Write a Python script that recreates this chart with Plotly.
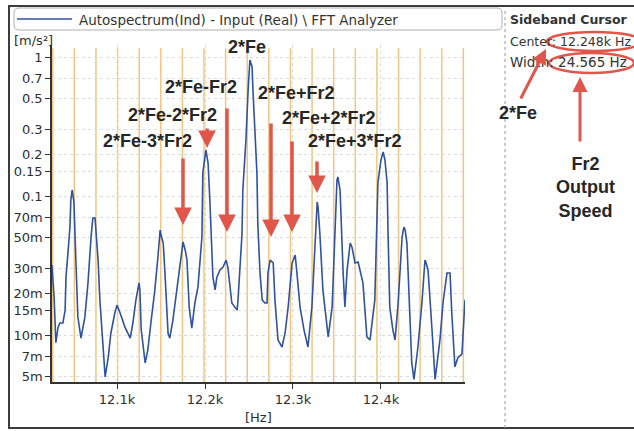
import numpy as np
import plotly.graph_objects as go

# Autospectrum around twice the mesh frequency (Hz, m/s^2)
freq_hz = [
    12026, 12028.5, 12030.5, 12033, 12035, 12038.5, 12041, 12042, 12044.5, 12046.5,
    12047.5, 12049, 12051, 12052.5, 12053.5, 12055.5, 12059, 12063.5, 12067, 12070.5,
    12072.5, 12075, 12076, 12078.5, 12080.5, 12084, 12086.5, 12090, 12093, 12097.5,
    12100, 12103.5, 12109, 12115, 12118, 12121.5, 12125, 12126, 12127.5, 12132,
    12135, 12138.5, 12143, 12146.5, 12149, 12150, 12152.5, 12154.5, 12158, 12160,
    12163.5, 12169, 12174, 12175, 12177.5, 12179.5, 12182, 12185, 12188.5, 12192,
    12196.5, 12197.5, 12201, 12203.5, 12205.5, 12208, 12209, 12211.5, 12213.5, 12217,
    12220.5, 12224, 12226, 12230.5, 12234, 12236.5, 12237.5, 12242, 12243, 12246.5,
    12249, 12251, 12253.5, 12254.5, 12259, 12260, 12262.5, 12265, 12268, 12270.5,
    12271.5, 12274, 12277.5, 12279.5, 12283, 12287.5, 12291, 12294.5, 12299, 12302.5,
    12304.5, 12308, 12312.5, 12317, 12321.5, 12325, 12327.5, 12328.5, 12330.5, 12334,
    12338.5, 12340, 12344.5, 12347.5, 12350, 12351, 12353.5, 12357, 12359, 12361.5,
    12365, 12367, 12370.5, 12374, 12379.5, 12384, 12387.5, 12393, 12396.5, 12400,
    12402.5, 12404.5, 12407, 12408, 12410, 12413.5, 12416, 12419.5, 12424, 12426,
    12427.5, 12429.5, 12433, 12435, 12437.5, 12442, 12446.5, 12450, 12451, 12453.5,
    12458, 12461.5, 12467, 12470.5, 12475, 12478.5, 12480.5, 12484, 12487.5, 12492,
    12495.5,
]
accel = [
    0.0319, 0.0188, 0.0088, 0.0114, 0.0122, 0.0122, 0.0151, 0.0261, 0.0409, 0.0598,
    0.0936, 0.1105, 0.0905, 0.0542, 0.0308, 0.0135, 0.0095, 0.0135, 0.0237, 0.0507,
    0.0694, 0.0694, 0.0551, 0.0346, 0.0179, 0.0078, 0.0050, 0.0069, 0.0103, 0.0144,
    0.0164, 0.0144, 0.0114, 0.0095, 0.0122, 0.0179, 0.0237, 0.0211, 0.0109, 0.0063,
    0.0078, 0.0122, 0.0211, 0.0364, 0.0569, 0.0524, 0.0459, 0.0279, 0.0103, 0.0095,
    0.0128, 0.0237, 0.0430, 0.0467, 0.0409, 0.0346, 0.0159, 0.0112, 0.0170, 0.0222,
    0.0507, 0.1464, 0.2143, 0.1727, 0.0936, 0.0430, 0.0261, 0.0211, 0.0261, 0.0294,
    0.0308, 0.0346, 0.0308, 0.0170, 0.0159, 0.0151, 0.0179, 0.0524, 0.1105, 0.2529,
    0.5789, 0.9515, 0.8475, 0.5789, 0.1464, 0.0639, 0.0279, 0.0179, 0.0170, 0.0170,
    0.0279, 0.0346, 0.0330, 0.0179, 0.0092, 0.0082, 0.0103, 0.0159, 0.0330, 0.0376,
    0.0279, 0.0159, 0.0109, 0.0082, 0.0159, 0.0507, 0.0905, 0.0833, 0.0542, 0.0211,
    0.0109, 0.0097, 0.0159, 0.0507, 0.1303, 0.1370, 0.1105, 0.0279, 0.0159, 0.0294,
    0.0459, 0.0430, 0.0330, 0.0335, 0.0237, 0.0097, 0.0092, 0.0179, 0.1241, 0.1816,
    0.2073, 0.1816, 0.1241, 0.0551, 0.0159, 0.0109, 0.0092, 0.0170, 0.0507, 0.0598,
    0.0569, 0.0459, 0.0144, 0.0063, 0.0048, 0.0082, 0.0170, 0.0346, 0.0335, 0.0294,
    0.0109, 0.0048, 0.0092, 0.0170, 0.0279, 0.0279, 0.0144, 0.0059, 0.0069, 0.0073,
    0.0179,
]

x_ticks = [12100, 12200, 12300, 12400]
x_tick_text = ["12.1k", "12.2k", "12.3k", "12.4k"]
y_ticks = [1, 0.7, 0.5, 0.3, 0.2, 0.15, 0.1, 0.07, 0.05, 0.03, 0.02, 0.015, 0.01, 0.007, 0.005]
y_tick_text = ["1", "0.7", "0.5", "0.3", "0.2", "0.15", "0.1", "70m", "50m",
               "30m", "20m", "15m", "10m", "7m", "5m"]

sideband_center = 12248.0   # Hz, 2*Fe
sideband_width = 24.565     # Hz, Fr2 output speed

W, H = 634, 431
ML, MR, MT, MB = 52, 169, 45, 49
PW, PH = W - ML - MR, H - MT - MB

def px(x):
    return (x - ML) / PW

def py(y):
    return 1 - (y - MT) / PH

TICK_FONT = dict(family="DejaVu Sans", size=13, color="#2e2e2e")
PANEL_FONT = dict(family="DejaVu Sans", size=12.5, color="#333333")
LABEL_FONT = dict(family="Liberation Sans", size=18, color="#262626")
RED = "#e0564b"
BLUE = "#30529f"
ORANGE = "#f3c47e"

fig = go.Figure()
fig.add_trace(go.Scatter(
    x=freq_hz, y=accel, mode="lines",
    line=dict(color=BLUE, width=1.6),
    showlegend=False, hoverinfo="skip",
))

shapes = []
# sideband cursor lines
x_lo, x_hi = 12026.1, 12495.5
n_lo = int(np.ceil((x_lo - sideband_center) / sideband_width))
n_hi = int(np.floor((x_hi - sideband_center) / sideband_width))
for n in range(n_lo, n_hi + 1):
    xf = sideband_center + n * sideband_width
    shapes.append(dict(type="line", xref="x", yref="paper", x0=xf, x1=xf, y0=0, y1=0.99,
                       line=dict(color=ORANGE, width=1.5), layer="below"))

# outer frame and panel divider
shapes.append(dict(type="rect", xref="paper", yref="paper",
                   x0=px(9), x1=px(640), y0=py(428), y1=py(6),
                   line=dict(color="#3c3c3c", width=2)))
shapes.append(dict(type="line", xref="paper", yref="paper",
                   x0=px(505), x1=px(505), y0=py(428), y1=py(8),
                   line=dict(color="#9a9a9a", width=1, dash="dot")))

# legend bar with rounded corners
def rounded_rect(x0, y0, x1, y1, r):
    a0, a1 = px(x0), px(x1)
    b0, b1 = py(y0), py(y1)
    rx, ry = r / PW, r / PH
    return (f"M {a0+rx},{b0} L {a1-rx},{b0} Q {a1},{b0} {a1},{b0-ry} "
            f"L {a1},{b1+ry} Q {a1},{b1} {a1-rx},{b1} L {a0+rx},{b1} "
            f"Q {a0},{b1} {a0},{b1+ry} L {a0},{b0-ry} Q {a0},{b0} {a0+rx},{b0} Z")

shapes.append(dict(type="path", xref="paper", yref="paper",
                   path=rounded_rect(14, 8, 502, 30, 5),
                   line=dict(color="#b0b0b0", width=1)))
shapes.append(dict(type="line", xref="paper", yref="paper",
                   x0=px(17), x1=px(72), y0=py(19), y1=py(19),
                   line=dict(color=BLUE, width=1.5)))

# highlight ellipses on the cursor readout
shapes.append(dict(type="circle", xref="paper", yref="paper",
                   x0=px(547), x1=px(642), y0=py(51), y1=py(32),
                   line=dict(color=RED, width=2.5)))
shapes.append(dict(type="circle", xref="paper", yref="paper",
                   x0=px(549), x1=px(634), y0=py(73), y1=py(53),
                   line=dict(color=RED, width=2.5)))

ann = []
# sideband labels
labels = [
    ("2*Fe", 12247.7, 1.18),
    ("2*Fe-Fr2", 12195.5, 0.608),
    ("2*Fe-2*Fr2", 12163.0, 0.383),
    ("2*Fe-3*Fr2", 12135.2, 0.249),
    ("2*Fe+Fr2", 12304.0, 0.551),
    ("2*Fe+2*Fr2", 12341.0, 0.364),
    ("2*Fe+3*Fr2", 12370.5, 0.249),
]
for txt, xf, amp in labels:
    ann.append(dict(text=f"<b>{txt}</b>", x=xf, y=np.log10(amp), xref="x", yref="y",
                    showarrow=False, font=LABEL_FONT, xanchor="center", yanchor="middle"))

# red arrows pointing at the sideband positions
arrows = [
    (12175.0, 0.0618, -68),
    (12202.3, 0.2214, -21),
    (12225.0, 0.0551, -125),
    (12275.0, 0.0507, -115),
    (12298.9, 0.0551, -92),
    (12327.3, 0.1051, -33),
]
for xf, amp, length in arrows:
    ann.append(dict(text="", x=xf, y=np.log10(amp), xref="x", yref="y",
                    showarrow=True, ax=0, ay=length, arrowhead=2, arrowsize=1,
                    arrowwidth=3.5, arrowcolor=RED, standoff=0))

# legend text
ann.append(dict(text="Autospectrum(Ind) - Input (Real) \\ FFT Analyzer",
                x=px(77), y=py(20), xref="paper", yref="paper", xanchor="left",
                yanchor="middle", showarrow=False,
                font=dict(family="DejaVu Sans", size=13.5, color="#333333")))
# axis units
ann.append(dict(text="[m/s²]", x=px(12), y=py(40), xref="paper", yref="paper",
                xanchor="left", yanchor="middle", showarrow=False, font=TICK_FONT))
ann.append(dict(text="[Hz]", x=px(258), y=py(418), xref="paper", yref="paper",
                xanchor="center", yanchor="middle", showarrow=False, font=TICK_FONT))

# cursor readout panel
ann.append(dict(text="<b>Sideband Cursor</b>", x=px(508), y=py(20), xref="paper",
                yref="paper", xanchor="left", yanchor="middle", showarrow=False,
                font=PANEL_FONT))
ann.append(dict(text=f"Center: {sideband_center/1000:.3f}k Hz", x=px(508), y=py(41),
                xref="paper", yref="paper", xanchor="left", yanchor="middle",
                showarrow=False, font=PANEL_FONT))
ann.append(dict(text=f"Width: {sideband_width:.3f} Hz", x=px(508), y=py(62),
                xref="paper", yref="paper", xanchor="left", yanchor="middle",
                showarrow=False, font=dict(PANEL_FONT, size=13.5)))
ann.append(dict(text="<b>2*Fe</b>", x=px(518), y=py(113), xref="paper", yref="paper",
                xanchor="center", yanchor="middle", showarrow=False, font=LABEL_FONT))
ann.append(dict(text="<b>Fr2<br>Output<br>Speed</b>", x=px(585), y=py(187),
                xref="paper", yref="paper", xanchor="center", yanchor="middle",
                showarrow=False, font=LABEL_FONT))
ann.append(dict(text="", x=px(546), y=py(49), xref="paper", yref="paper",
                showarrow=True, ax=-26, ay=51, arrowhead=2, arrowsize=1,
                arrowwidth=3, arrowcolor=RED, standoff=0))
ann.append(dict(text="", x=px(580), y=py(77), xref="paper", yref="paper",
                showarrow=True, ax=0, ay=66, arrowhead=2, arrowsize=1,
                arrowwidth=3, arrowcolor=RED, standoff=0))

fig.update_layout(
    width=W, height=H,
    margin=dict(l=ML, r=MR, t=MT, b=MB),
    paper_bgcolor="white", plot_bgcolor="white",
    shapes=shapes, annotations=ann,
    xaxis=dict(range=[x_lo, x_hi], tickvals=x_ticks, ticktext=x_tick_text,
               showline=True, linecolor="#333333", linewidth=1.5, ticks="outside",
               ticklen=5, tickcolor="#333333", showgrid=True, gridcolor="#dcdcdc",
               griddash="dot", zeroline=False, tickfont=TICK_FONT, fixedrange=True),
    yaxis=dict(type="log", range=[-2.338, 0.0863], tickvals=y_ticks, ticktext=y_tick_text,
               showline=True, linecolor="#333333", linewidth=1.5, ticks="outside",
               ticklen=5, tickcolor="#333333", showgrid=True, gridcolor="#dcdcdc",
               griddash="dot", zeroline=False, tickfont=TICK_FONT, fixedrange=True),
)

fig.write_html("out.html")
